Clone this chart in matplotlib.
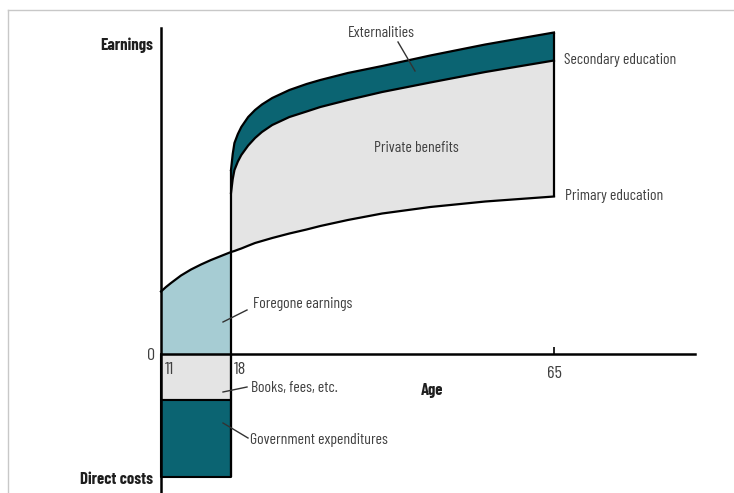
import numpy as np
import matplotlib
matplotlib.use("Agg")
import matplotlib.pyplot as plt
from matplotlib.lines import Line2D

plt.rcParams["font.family"] = ["Barlow Condensed", "Archivo Narrow", "DejaVu Sans"]

# schooling years (ages 11-18): earnings forgone vs primary-education earnings
school_ages = [11, 11.5, 12, 13, 14, 15, 16, 17, 18]
primary_school = [62.5, 67, 71, 78.5, 84.5, 89.5, 94, 98, 102]

# working life (ages 18-65)
work_ages = [18, 18.25, 18.5, 19, 19.5, 20.5, 21.5, 22.5, 24, 26.5, 29, 31, 35, 40, 47, 55, 65]
primary_work = [102, 102.5, 103, 104.3, 105.5, 108.3, 111, 113, 116, 120.5, 124.5, 128,
                134, 140.5, 147, 152.5, 157.5]
secondary_private = [161, 175, 184, 192.5, 199, 208.5, 216, 222, 229, 237, 242.5, 247,
                     254, 262, 271.5, 282, 293.5]
secondary_social = [184, 200, 211, 220, 227, 237, 244, 249.5, 256, 264, 270, 274,
                    281, 288, 298.5, 309.5, 321.5]

# direct costs during schooling
books_fees = 46
gov_exp = 77

age_ticks = [18, 65]

TEAL = "#0b6472"
LIGHTBLUE = "#a6ccd3"
LIGHTGRAY = "#e4e4e4"
TXT = "#404040"


def fwd(a):
    a = np.asarray(a, dtype=float)
    return np.where(a < 18, 161 + (a - 11) * 10.0, 231 + (a - 18) * 6.872)


def inv(p):
    p = np.asarray(p, dtype=float)
    return np.where(p < 231, 11 + (p - 161) / 10.0, 18 + (p - 231) / 6.872)


W, H = 734, 493
fig = plt.figure(figsize=(W / 100, H / 100), dpi=100)
ax = fig.add_axes([0, 0, 1, 1])
ax.set_xscale("function", functions=(fwd, inv))
ax.set_xlim(float(inv(0)), float(inv(W)))
ax.set_ylim(354 - H, 354)
ax.patch.set_alpha(0)

edge = dict(edgecolor="black", linewidth=1.5)

# costs below zero
ax.fill_between([11, 18], 0, -books_fees, facecolor=LIGHTGRAY, **edge)
ax.fill_between([11, 18], -books_fees, -books_fees - gov_exp, facecolor=TEAL, **edge)

# foregone earnings
ax.fill_between(school_ages, 0, primary_school, facecolor=LIGHTBLUE, linewidth=0)

# private benefits and externalities
ax.fill_between(work_ages, primary_work, secondary_private, facecolor=LIGHTGRAY, linewidth=0)
ax.fill_between(work_ages, secondary_private, secondary_social, facecolor=TEAL, linewidth=0)

ax.plot(school_ages + work_ages[1:], primary_school + primary_work[1:], color="black", lw=1.6)
ax.plot(work_ages, secondary_private, color="black", lw=1.6)
ax.plot(work_ages, secondary_social, color="black", lw=1.6)
ax.vlines(18, -books_fees - gov_exp, secondary_social[0], color="black", lw=1.6)
ax.vlines(65, primary_work[-1], secondary_social[-1], color="black", lw=1.6)

# axes lines
for s in ["top", "right"]:
    ax.spines[s].set_visible(False)
ax.spines["left"].set_position(("data", 11))
ax.spines["left"].set_bounds(354 - H, 354 - 28)
ax.spines["bottom"].set_position(("data", 0))
ax.spines["bottom"].set_bounds(11, float(inv(695)))
for s in ["left", "bottom"]:
    ax.spines[s].set_linewidth(1.8)
    ax.spines[s].set_zorder(5)
ax.set_yticks([])
ax.set_xticks(age_ticks)
ax.tick_params(axis="x", direction="in", length=5, width=1.2, labelbottom=False)
ax.xaxis.set_minor_locator(matplotlib.ticker.NullLocator())


def txt(px, py, s, **kw):
    kw.setdefault("color", TXT)
    kw.setdefault("fontsize", 11.3)
    kw.setdefault("va", "center")
    fig.text(px / W, 1 - py / H, s, **kw)


def leader(x0, y0, x1, y1):
    fig.add_artist(Line2D([x0 / W, x1 / W], [1 - y0 / H, 1 - y1 / H],
                          color="#333333", lw=1.0))


bold = dict(fontweight="bold", color="#1e1e1e", fontsize=12)
txt(153, 45, "Earnings", ha="right", **bold)
txt(153, 480, "Direct costs", ha="right", **bold)
txt(432, 390, "Age", ha="center", **bold)
txt(151, 356, "0", ha="center", fontsize=13)
txt(165, 370, "11", ha="left", fontsize=13)
txt(234, 370, "18", ha="left", fontsize=13)
txt(554, 373, "65", ha="center", fontsize=13)

txt(381, 33, "Externalities", ha="center")
leader(398, 42, 415, 71)
txt(564, 60, "Secondary education", ha="left")
txt(416, 148, "Private benefits", ha="center")
txt(565, 196, "Primary education", ha="left")
txt(253, 304, "Foregone earnings", ha="left")
leader(223, 322, 247, 310)
txt(251, 388, "Books, fees, etc.", ha="left")
leader(223, 392, 247, 387)
txt(250, 440, "Government expenditures", ha="left")
leader(223, 423, 248, 438)

# frame lines at the top and left of the page
fig.add_artist(Line2D([8 / W, 1], [1 - 10 / H, 1 - 10 / H], color="#c8c8c8", lw=1.0))
fig.add_artist(Line2D([8 / W, 8 / W], [1 - 10 / H, 0], color="#c8c8c8", lw=1.0))

fig.savefig("out.png", dpi=100)
